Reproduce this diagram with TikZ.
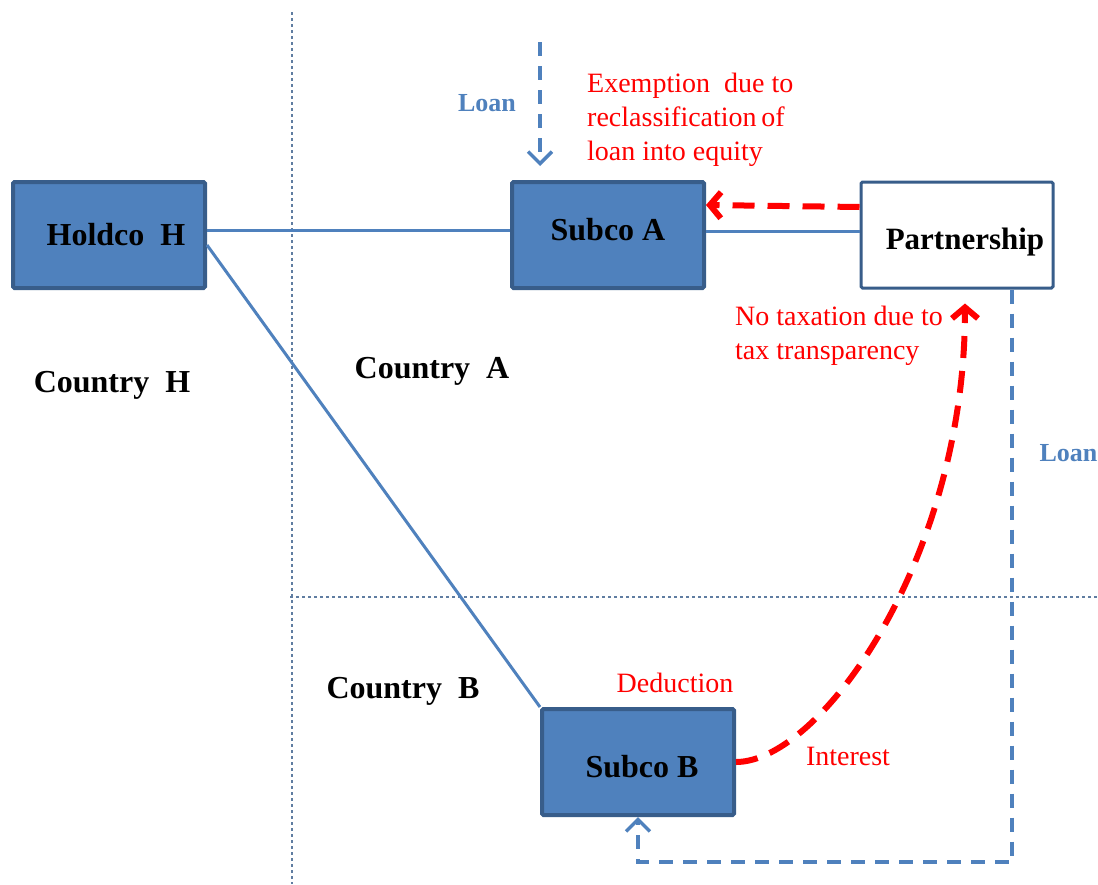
\documentclass[tikz,border=0pt]{standalone}
\usepackage{fontspec}
\setmainfont{Liberation Serif}
\usetikzlibrary{arrows.meta}

\definecolor{boxblue}{HTML}{4F81BD}
\definecolor{boxedge}{HTML}{385D8A}
\definecolor{flowred}{HTML}{FF0000}

\tikzset{
  entity/.style={rectangle, draw=boxedge, line width=4pt, fill=boxblue, minimum width=192pt, minimum height=106pt, rounded corners=1.5pt, font=\fontsize{32}{38}\selectfont\bfseries},
  partner/.style={entity, fill=white, line width=3pt, font=\fontsize{31}{36}\selectfont\bfseries},
  link/.style={boxblue, line width=3pt},
  border/.style={boxedge!80, line width=1.2pt, dash pattern=on 3pt off 3pt},
  loan/.style={boxblue, line width=3.5pt, dash pattern=on 14pt off 10pt, -{Straight Barb[length=12pt, width=24pt]}},
  flow/.style={flowred, line width=6pt, dash pattern=on 22pt off 13pt, -{Straight Barb[length=11pt, width=26pt]}},
  country/.style={font=\fontsize{32}{38}\selectfont\bfseries},
  note/.style={flowred, align=left, inner sep=0pt, font=\fontsize{28}{34}\selectfont},
  loanlabel/.style={boxblue, font=\fontsize{26}{30}\selectfont\bfseries}
}

\begin{document}
\begin{tikzpicture}[x=1pt, y=-1pt]
	\useasboundingbox (0,0) rectangle (1098,884);

	% Country borders
	\coordinate (bt) at (292,12);
	\coordinate (bb) at (292,884);
	\coordinate (bl) at (290,597);
	\coordinate (br) at (1098,597);
	\draw[border] (bt) -- (bb);
	\draw[border] (bl) -- (br);

	% Companies
	\node[entity] (h) at (109,235) {\hspace{14pt}Holdco\ \ H};
	\node[entity] (sa) at (608,235) {\raisebox{5pt}[\height][\depth]{Subco A}};
	\node[partner] (pt) at (957,235) {\hspace{16pt}\raisebox{-7pt}[\height][\depth]{Partnership}};
	\node[entity] (sb) at (638,762) {\hspace{8pt}\raisebox{-5pt}[\height][\depth]{Subco B}};

	% Countries
	\node[country] (ch) at (112,385) {Country\ \ H};
	\node[country] (ca) at (432,371) {Country\ \ A};
	\node[country] (cb) at (403,691) {Country\ \ B};

	% Ownership lines
	\draw[link] (h.east |- 0,230) -- (sa.west |- 0,230);
	\draw[link] (sa.east |- 0,231) -- (pt.west |- 0,231);
	\draw[link] ([yshift=-10pt]h.east) -- (sb.north west);

	% Loan to Subco A
	\coordinate (la) at (540,42);
	\draw[loan] (la) -- (sa.north -| la) [shorten >=14pt];
	\node[loanlabel] (lla) at (487,103) {Loan};

	% Loan from partnership to Subco B
	\coordinate (lb) at (1012,862);
	\draw[loan] (pt.south -| lb) -- (lb) -| (sb.south);
	\node[loanlabel, anchor=west] (llb) at (1036,453) {Loan};

	% Payments
	\draw[flow] ([yshift=28pt]pt.west) -- ([yshift=30pt]sa.east);
	\draw[flow, shorten >=14pt] (sb.east) .. controls (820,762) and (965,560) .. ([xshift=8pt]pt.south);

	% Tax notes
	\node[note, anchor=west] (ex) at (587,120) {Exemption\ \ due to\\reclassification\,of\\loan into equity};
	\node[note, anchor=west] (nt) at (735,336) {No taxation due to\\tax transparency};
	\node[note] (de) at (675,683) {Deduction};
	\node[note] (in) at (848,756) {Interest};
\end{tikzpicture}
\end{document}
